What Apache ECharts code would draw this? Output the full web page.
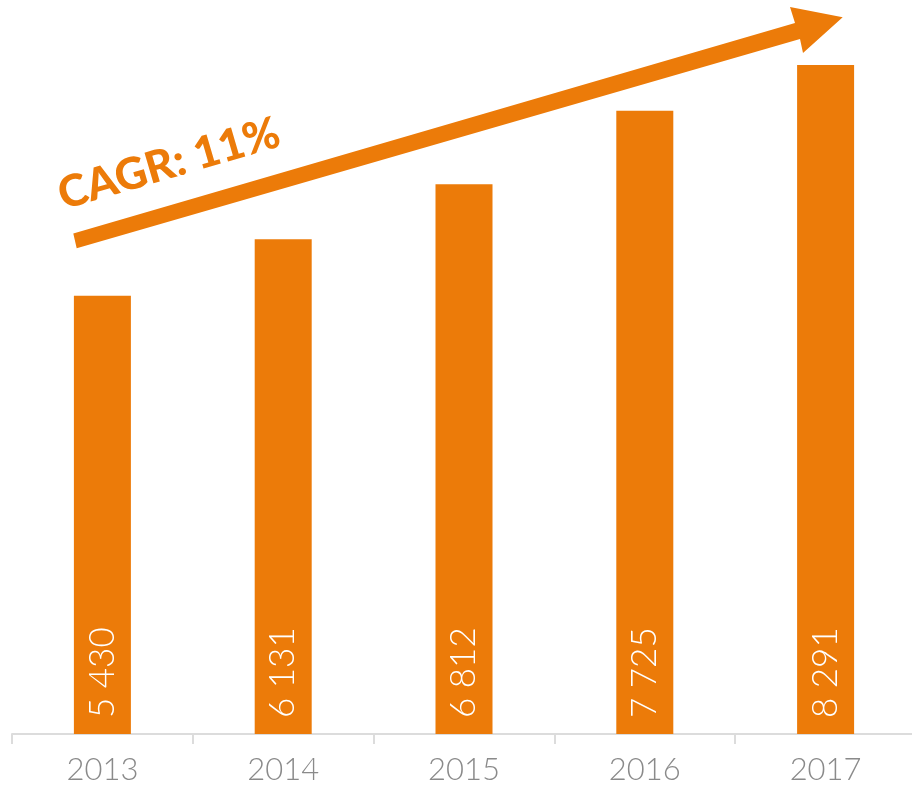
<!DOCTYPE html>
<html><head><meta charset="utf-8">
<script src="https://cdn.jsdelivr.net/npm/echarts@6/dist/echarts.min.js"></script>
<style>html,body{margin:0;padding:0;background:#fff;overflow:hidden;width:912px;height:789px}#c{width:920px;height:789px}</style>
</head><body><div id="c"></div>
<script>
const categories = ['2013','2014','2015','2016','2017'];
const values = [5430, 6131, 6812, 7725, 8291];
const annotation = 'CAGR: 11%';
const ORANGE = '#EC7B09';
const fmt = v => String(v).replace(/\B(?=(\d{3})+(?!\d))/g, ' ');
const chart = echarts.init(document.getElementById('c'), null, {renderer:'canvas'});
chart.setOption({
  animation:false,
  grid:{left:12, right:4, top:65, bottom:55, containLabel:false},
  xAxis:{type:'category', data:categories,
    axisLine:{lineStyle:{color:'#dcdcdc', width:2}},
    axisTick:{show:true, length:10, lineStyle:{color:'#dcdcdc', width:2}},
    axisLabel:{color:'#8a8a8a', fontSize:31, fontFamily:'Lato', fontWeight:300, margin:20}},
  yAxis:{type:'value', min:0, max:'dataMax', show:false, splitLine:{show:false}},
  series:[{type:'bar', data:values, barWidth:57, itemStyle:{color:ORANGE},
    label:{show:true, position:'insideBottom', rotate:90, align:'left', verticalAlign:'middle',
      distance:16, color:'#fff', fontSize:35, fontFamily:'Lato', fontWeight:300,
      formatter:p=>fmt(p.value)}}],
  graphic:[
    {type:'polygon', shape:{points:[[73.3,233.5],[795,23],[790,7],[842.7,17.3],[803,53],[800,39],[76.7,248.3]]},
     style:{fill:ORANGE}},
    {type:'text', x:169, y:164, rotation:16.3*Math.PI/180,
     style:{text:annotation, fill:ORANGE, font:'900 44px Lato', align:'center', verticalAlign:'middle'}}
  ]
});
</script></body></html>
